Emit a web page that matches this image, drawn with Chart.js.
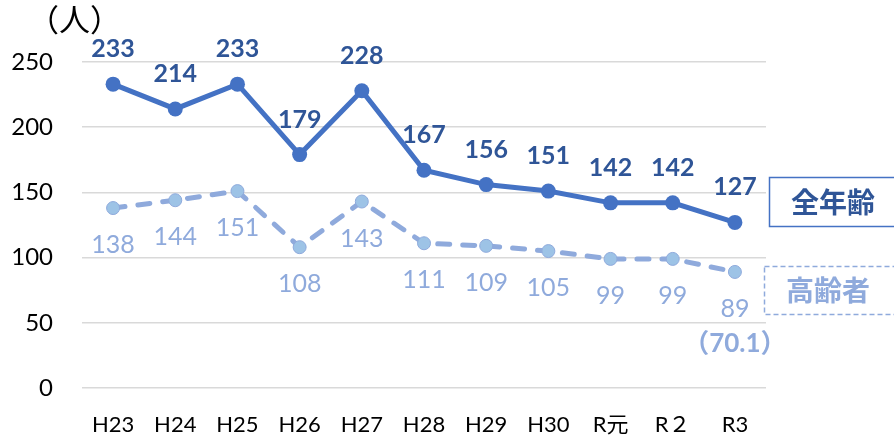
<!DOCTYPE html>
<html>
<head>
<meta charset="utf-8">
<script src="https://cdn.jsdelivr.net/npm/chart.js@4/dist/chart.umd.min.js"></script>
<style>
  html, body { margin: 0; padding: 0; background: #fff; }
  #wrap { width: 894px; height: 445px; position: relative; }
</style>
</head>
<body>
<div id="wrap"><canvas id="chart" width="894" height="445"></canvas></div>
<script>
const years = ['H23', 'H24', 'H25', 'H26', 'H27', 'H28', 'H29', 'H30', 'R元', 'R２', 'R3'];
const allAges = [233, 214, 233, 179, 228, 167, 156, 151, 142, 142, 127];
const elderly = [138, 144, 151, 108, 143, 111, 109, 105, 99, 99, 89];
const elderlyShareNote = '（70.1）';

const FONT = "Lato, 'Noto Sans CJK JP', sans-serif";
const DARK = '#2F5597';
const BLUE = '#4472C4';
const LIGHT = '#8FAADC';

// value labels + side boxes
const extras = {
    id: 'extras',
    afterDatasetsDraw(chart) {
        const ctx = chart.ctx;
        ctx.save();
        ctx.textAlign = 'center';
        ctx.textBaseline = 'middle';

        const top = chart.getDatasetMeta(0);
        ctx.font = "bold 25px " + FONT;
        ctx.fillStyle = DARK;
        top.data.forEach((pt, i) => {
            ctx.fillText(allAges[i], pt.x, pt.y - 35);
        });

        const low = chart.getDatasetMeta(1);
        ctx.font = "25px " + FONT;
        ctx.fillStyle = LIGHT;
        low.data.forEach((pt, i) => {
            ctx.fillText(elderly[i], pt.x, pt.y + 37);
        });
        const last = low.data[low.data.length - 1];
        ctx.font = "bold 26px " + FONT;
        ctx.fillText(elderlyShareNote, last.x, last.y + 72);

        // unit
        ctx.font = "31px " + FONT;
        ctx.fillStyle = '#000';
        ctx.textAlign = 'left';
        ctx.fillText('（人）', 28, 21);

        // series boxes
        ctx.lineWidth = 1.5;
        ctx.strokeStyle = BLUE;
        ctx.setLineDash([]);
        ctx.strokeRect(769.5, 177.5, 130, 49);
        ctx.textAlign = 'center';
        ctx.font = "bold 28px " + FONT;
        ctx.fillStyle = DARK;
        ctx.fillText('全年齢', 833, 204);

        ctx.strokeStyle = LIGHT;
        ctx.setLineDash([5, 3]);
        ctx.strokeRect(764.5, 266.5, 135, 48);
        ctx.fillStyle = LIGHT;
        ctx.fillText('高齢者', 828, 292);
        ctx.restore();
    }
};

new Chart(document.getElementById('chart'), {
    type: 'line',
    data: {
        labels: years,
        datasets: [
            {
                label: '全年齢',
                data: allAges,
                borderColor: BLUE,
                backgroundColor: BLUE,
                borderWidth: 5,
                pointRadius: 7.5,
                pointBackgroundColor: BLUE,
                pointBorderWidth: 0,
                tension: 0,
            },
            {
                label: '高齢者',
                data: elderly,
                borderColor: LIGHT,
                backgroundColor: '#9DC3E6',
                borderWidth: 5,
                borderDash: [12, 13],
                borderCapStyle: 'round',
                pointRadius: 6.5,
                pointBackgroundColor: '#9DC3E6',
                pointBorderColor: LIGHT,
                pointBorderWidth: 1,
                tension: 0,
            },
        ],
    },
    options: {
        responsive: false,
        animation: false,
        devicePixelRatio: 1,
        layout: { padding: { top: 62, right: 128, left: 0, bottom: 0 } },
        plugins: {
            legend: { display: false },
            tooltip: { enabled: false },
        },
        scales: {
            x: {
                offset: true,
                grid: { display: false, drawTicks: false },
                border: { display: false },
                ticks: { color: '#000', padding: 24, font: { family: FONT, size: 22 } },
                afterFit: (axis) => { axis.height = 57; },
            },
            y: {
                min: 0,
                max: 250,
                ticks: { stepSize: 50, color: '#000', padding: 29, font: { family: FONT, size: 24 } },
                grid: { color: '#D9D9D9', lineWidth: 1.5, drawTicks: false },
                border: { display: false },
                afterFit: (axis) => { axis.width = 82; },
            },
        },
    },
    plugins: [extras],
});
</script>
</body>
</html>
